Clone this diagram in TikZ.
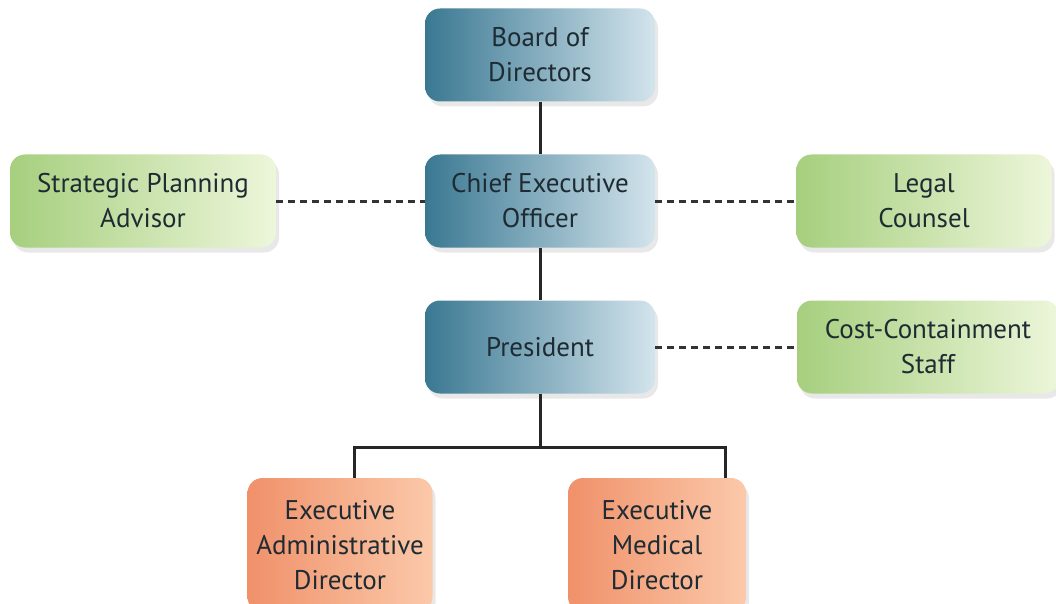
\documentclass[tikz,border=0pt]{standalone}
\usepackage{fontspec}
\setmainfont{PT Sans}
\usetikzlibrary{shadows}
\definecolor{bL}{HTML}{3A7892}
\definecolor{bR}{HTML}{D3E4EC}
\definecolor{gL}{HTML}{A6CF7E}
\definecolor{gR}{HTML}{EDF6DA}
\definecolor{oL}{HTML}{F0916A}
\definecolor{oR}{HTML}{FBC9AA}
\definecolor{txt}{HTML}{1E2B33}
\tikzset{
  box/.style={rounded corners=15pt, align=center, inner sep=0pt,
    font=\fontsize{27}{35}\selectfont, text=txt,
    drop shadow={opacity=0.18, shadow xshift=3pt, shadow yshift=-5pt}},
  bluebox/.style={box, left color=bL, right color=bR, minimum width=230pt, minimum height=93pt},
  greenbox/.style={box, left color=gL, right color=gR, minimum height=93pt},
  orangebox/.style={box, left color=oL, right color=oR, minimum height=134pt},
  solidline/.style={line width=3pt, draw=black!85},
  dashline/.style={line width=3pt, draw=black!80, dash pattern=on 7pt off 5pt}
}
\begin{document}
\begin{tikzpicture}[x=1pt,y=-1pt]
\useasboundingbox (0,0) rectangle (1056,604);
\fill[white] (0,0) rectangle (1056,604);
\clip (0,0) rectangle (1056,604);
\node[bluebox] (bod) at (540,55) {Board of\\Directors};
\node[bluebox] (ceo) at (540,201) {Chief Executive\\Officer};
\node[bluebox] (pres) at (540,347) {President};
\node[greenbox, minimum width=266pt] (spa) at (143,201) {Strategic Planning\\Advisor};
\node[greenbox, minimum width=255pt] (lc) at (924,201) {Legal\\Counsel};
\node[greenbox, minimum width=262pt] (ccs) at (928,347) {Cost-Containment\\Staff};
\node[orangebox, minimum width=185pt] (ead) at (340,545) {Executive\\Administrative\\Director};
\node[orangebox, minimum width=178pt] (emd) at (657,545) {Executive\\Medical\\Director};
\coordinate (split) at (540,447);
\draw[solidline] (bod.south) -- (ceo.north);
\draw[solidline] (ceo.south) -- (pres.north);
\draw[solidline] (pres.south) -- (split);
\draw[solidline] (split) -| (ead.north -| 354,0);
\draw[solidline] (split) -| (emd.north -| 725,0);
\draw[dashline] (spa.east) -- (ceo.west);
\draw[dashline] (ceo.east) -- (lc.west);
\draw[dashline] (pres.east) -- (ccs.west);
\end{tikzpicture}
\end{document}
